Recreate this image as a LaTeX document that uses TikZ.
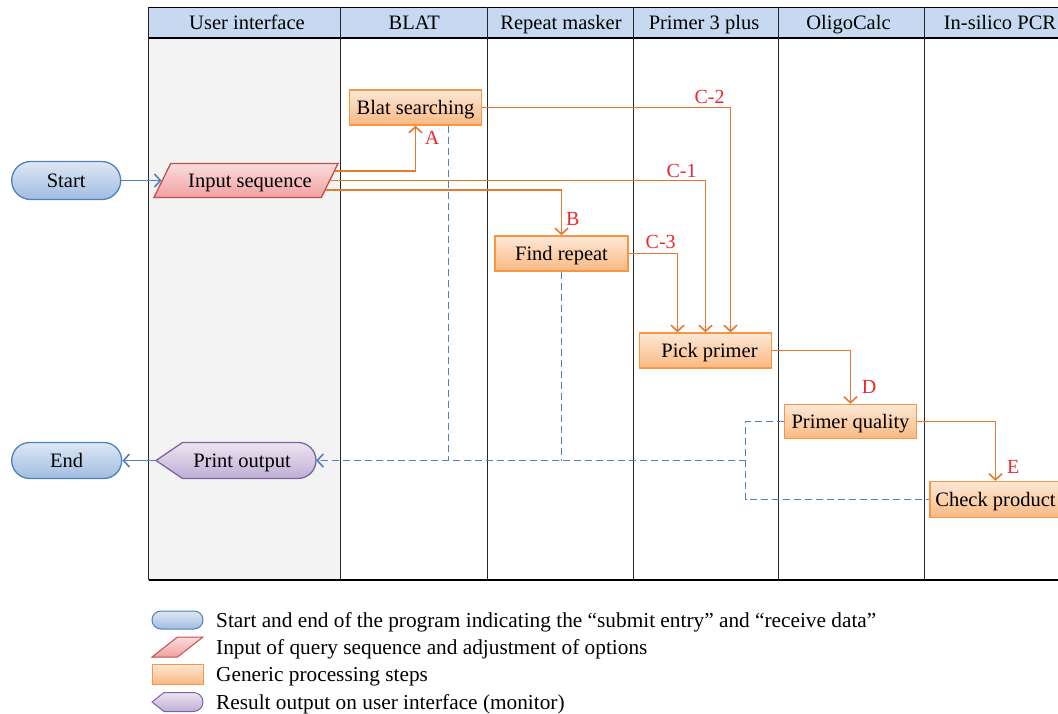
\documentclass[tikz,border=0pt]{standalone}
\usepackage{fontspec}
\setmainfont{Liberation Serif}
\usetikzlibrary{arrows.meta,shapes.geometric,shapes.misc,calc}
\definecolor{hdr}{RGB}{198,217,240}
\definecolor{uibg}{RGB}{242,243,242}
\definecolor{orline}{RGB}{230,122,50}
\definecolor{orborder}{RGB}{247,150,70}
\definecolor{ortop}{RGB}{253,232,214}
\definecolor{orbot}{RGB}{249,185,130}
\definecolor{blborder}{RGB}{79,129,189}
\definecolor{bltop}{RGB}{222,232,245}
\definecolor{blbot}{RGB}{160,188,224}
\definecolor{rdborder}{RGB}{192,80,77}
\definecolor{rdtop}{RGB}{250,220,220}
\definecolor{rdbot}{RGB}{241,160,162}
\definecolor{puborder}{RGB}{128,100,162}
\definecolor{putop}{RGB}{236,229,242}
\definecolor{pubot}{RGB}{190,174,212}
\definecolor{lblred}{RGB}{236,40,50}
\definecolor{dashblue}{RGB}{79,129,189}
\begin{document}
\begin{tikzpicture}[x=1pt,y=-1pt,
  txt/.style={font=\fontsize{20.5pt}{24pt}\selectfont, text height=13.6pt, text depth=0pt, inner sep=0pt},
  hdrtxt/.style={txt},
  proc/.style={txt, rectangle, draw=orborder, line width=1.4pt, top color=ortop, bottom color=orbot, minimum width=132pt, minimum height=35pt},
  term/.style={txt, rounded rectangle, draw=blborder, line width=1.3pt, top color=bltop, bottom color=blbot, minimum width=109pt, minimum height=38pt},
  inp/.style={txt, trapezium, trapezium left angle=43, trapezium right angle=137, trapezium stretches=true, draw=rdborder, line width=1.3pt, top color=rdtop, bottom color=rdbot, minimum width=184.5pt, minimum height=34pt},
  outshape/.style={draw=puborder, line width=1.3pt, top color=putop, bottom color=pubot},
  lbl/.style={font=\fontsize{20pt}{23pt}\selectfont, text=lblred, inner sep=0pt},
  flow/.style={draw=orline, line width=1.6pt, -{Straight Barb[length=6pt,width=13pt]}},
  back/.style={draw=dashblue, line width=1.6pt, dash pattern=on 7pt off 4pt},
  lane/.style={line width=1.2pt, draw=black!85},
  legtxt/.style={font=\fontsize{21.3pt}{25pt}\selectfont, text height=14pt, text depth=0pt, inner sep=0pt, anchor=west}
]
\clip (0,0) rectangle (1058,714);
\fill[white] (0,0) rectangle (1058,714);
% swimlane table
\fill[uibg] (148.5,38) rectangle (340.5,580);
\fill[hdr] (148.5,7) rectangle (1070,38);
\draw[line width=0.9pt] (148.5,7) -- (1070,7);
\draw[line width=1.8pt] (148.5,38) -- (1070,38);
\draw[line width=1.4pt] (148.5,580) -- (1070,580);
\foreach \x in {148.5,340.5,487.5,633.5,778.5,924.5}
  \draw[lane] (\x,7) -- (\x,580);
\node[hdrtxt] (h1) at (247,22.5) {User interface};
\node[hdrtxt] (h2) at (414.2,22.5) {BLAT};
\node[hdrtxt] (h3) at (561,22.5) {Repeat masker};
\node[hdrtxt] (h4) at (704,22.5) {Primer 3 plus};
\node[hdrtxt] (h5) at (848.5,22.5) {OligoCalc};
\node[hdrtxt] (h6) at (1000,22.5) {In-silico PCR};
% output shape (display symbol) drawn under its node
\path[outshape]
  (156,460.5) -- (182.5,442.5) -- (298,442.5)
  .. controls (307.94,442.5) and (316,450.56) .. (316,460.5)
  .. controls (316,470.44) and (307.94,478.5) .. (298,478.5)
  -- (182.5,478.5) -- cycle;
% nodes
\node[term] (start) at (66.2,180.5) {Start};
\node[inp] (in) at (246,180.5) {\hspace*{8pt}Input sequence};
\node[proc, minimum width=131.5pt] (blat) at (415.5,107.5) {Blat searching};
\node[proc, minimum width=132.7pt] (find) at (561.5,253.5) {Find repeat};
\node[proc] (pick) at (705.5,350.5) {\hspace*{8pt}Pick primer};
\node[proc, minimum width=131.6pt, minimum height=34pt] (pq) at (850.5,421.5) {Primer quality};
\node[proc, minimum width=131.4pt, minimum height=36pt] (chk) at (995.5,499.5) {Check product};
\node[term, minimum width=110pt, minimum height=36pt] (end) at (66.7,460.5) {End};
\node[txt, minimum width=160pt, minimum height=36pt] (print) at (236,460.5) {\hspace*{12pt}Print output};
% flow connectors
\draw[flow, draw=blborder] (start.east) -- (in.left side);
\draw[flow] ($(in.top right corner)!0.23!(in.bottom right corner)$) -| (blat.south);
\draw[flow] ($(in.top right corner)!0.5!(in.bottom right corner)$) -| (pick.north);
\draw[flow] ($(in.top right corner)!0.765!(in.bottom right corner)$) -| (find.north);
\draw[flow] (blat.east) -| ([xshift=25pt]pick.north);
\draw[flow] (find.east) -| ([xshift=-28pt]pick.north);
\draw[flow] (pick.east) -| (pq.north);
\draw[flow] (pq.east) -| (chk.north);
% return connectors
\coordinate (m) at (745.5,460.5);
\draw[back, -{Straight Barb[length=6pt,width=13pt]}] (m) -- (print.east);
\draw[back] ([xshift=33pt]blat.south) -- ([xshift=33pt]blat.south |- m);
\draw[back] (find.south) -- (find.south |- m);
\draw[back] (pq.west) -| (m) |- (chk.west);
\draw[flow, draw=blborder] (print.west) -- (end.east);
% labels
\node[lbl] (la) at (432,137.5) {A};
\node[lbl] (lb) at (572.8,219) {B};
\node[lbl] (lc1) at (681.5,171) {C-1};
\node[lbl] (lc2) at (709.5,97) {C-2};
\node[lbl] (lc3) at (660.7,241.7) {C-3};
\node[lbl] (ld) at (869,387) {D};
\node[lbl] (le) at (1013.2,467) {E};
% legend
\node[term, minimum width=51pt, minimum height=18pt, line width=1pt] (lg1) at (177.5,620) {};
\node[inp, minimum width=51pt, minimum height=20pt, trapezium left angle=50, trapezium right angle=130, line width=1pt] (lg2) at (177.5,647) {};
\node[proc, minimum width=51pt, minimum height=20pt, line width=1pt] (lg3) at (177.5,674) {};
\path[outshape, line width=1pt]
  (152,702) -- (164,692.5) -- (193.5,692.5)
  .. controls (198.75,692.5) and (203,696.75) .. (203,702)
  .. controls (203,707.25) and (198.75,711.5) .. (193.5,711.5)
  -- (164,711.5) -- cycle;
\node[minimum width=51pt, minimum height=19pt, inner sep=0pt] (lg4) at (177.5,702) {};
\node[legtxt] (t1) at (216,620) {Start and end of the program indicating the “submit entry” and “receive data”};
\node[legtxt] (t2) at (216,647) {Input of query sequence and adjustment of options};
\node[legtxt] (t3) at (216,674) {Generic processing steps};
\node[legtxt] (t4) at (216,702) {Result output on user interface (monitor)};
\end{tikzpicture}
\end{document}
